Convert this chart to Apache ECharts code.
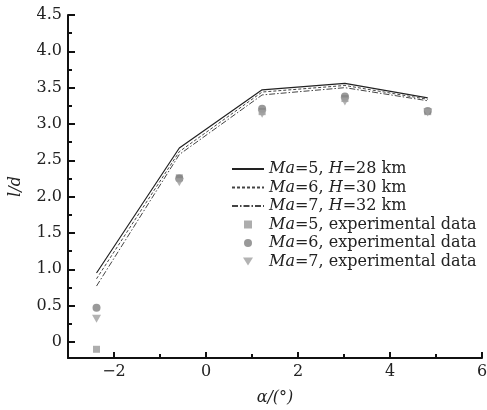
<!DOCTYPE html>
<html>
<head>
<meta charset="utf-8">
<script src="https://cdn.jsdelivr.net/npm/echarts@6/dist/echarts.min.js"></script>
<style>html,body{margin:0;padding:0;background:#fff}#c{width:487px;height:410px}</style>
</head>
<body>
<div id="c"></div>
<script>
const alpha = [-2.38, -0.58, 1.22, 3.02, 4.82];
const ma5Calc = [0.95, 2.67, 3.47, 3.56, 3.36];
const ma6Calc = [0.87, 2.62, 3.44, 3.53, 3.34];
const ma7Calc = [0.77, 2.58, 3.40, 3.50, 3.32];
const ma5Exp = [-0.10, 2.26, 3.17, 3.35, 3.17];
const ma6Exp = [0.47, 2.25, 3.21, 3.38, 3.18];
const ma7Exp = [0.32, 2.20, 3.14, 3.31, 3.16];
const xMajorTicks = [-2, 0, 2, 4, 6];
const xMinorTicks = [-1, 1, 3, 5];
const yMajorTicks = [0, 0.5, 1.0, 1.5, 2.0, 2.5, 3.0, 3.5, 4.0, 4.5];
const yMinorTicks = [-0.25, 0.25, 0.75, 1.25, 1.75, 2.25, 2.75, 3.25, 3.75, 4.25];
const names = ['Ma=5, H=28 km', 'Ma=6, H=30 km', 'Ma=7, H=32 km',
  'Ma=5, experimental data', 'Ma=6, experimental data', 'Ma=7, experimental data'];

const pair = (ys) => alpha.map((x, i) => [x, ys[i]]);
const font = '"DejaVu Serif", "Liberation Serif", serif';
const triPath = 'path://M0,0 L10,0 L5,8 Z';
const sqPath = 'path://M0,0 L10,0 L10,10 L0,10 Z';
const noSym = { color: 'rgba(0,0,0,0)', borderColor: 'rgba(0,0,0,0)', borderWidth: 0 };

const chart = echarts.init(document.getElementById('c'), null, { renderer: 'canvas' });
chart.setOption({
  animation: false,
  backgroundColor: '#fff',
  textStyle: { fontFamily: font },
  grid: { left: 68, right: 5, top: 15, bottom: 52, containLabel: false, outerBoundsMode: 'none' },
  legend: {
    orient: 'vertical', left: 226, top: 155,
    itemWidth: 32, itemHeight: 8, itemGap: 0.5,
    symbolKeepAspect: true,
    data: [
      { name: names[0], itemStyle: noSym },
      { name: names[1], itemStyle: noSym },
      { name: names[2], itemStyle: noSym },
      { name: names[3], icon: sqPath, itemStyle: { color: '#999' } },
      { name: names[4], icon: 'circle' },
      { name: names[5], icon: triPath }
    ],
    textStyle: {
      fontFamily: font, fontSize: 16, color: '#222', lineHeight: 18,
      rich: { i: { fontFamily: font, fontSize: 16, fontStyle: 'italic', color: '#222', lineHeight: 18 } }
    },
    formatter: (n) => n.replace(/Ma/, '{i|Ma}').replace(/H=/, '{i|H}=')
  },
  xAxis: [{
    type: 'value', min: -3, max: 6, position: 'bottom',
    name: 'α/(°)', nameLocation: 'middle', nameGap: 32,
    nameTextStyle: { fontFamily: font, fontSize: 16, fontStyle: 'italic', color: '#222' },
    axisLine: { onZero: false, lineStyle: { color: '#111', width: 2 } },
    axisTick: { show: true, inside: true, length: 6, customValues: xMajorTicks, lineStyle: { color: '#111', width: 2 } },
    axisLabel: { customValues: xMajorTicks, fontFamily: font, fontSize: 16, color: '#222', margin: 6,
      formatter: (v) => v < 0 ? '\u2212' + Math.abs(v) : String(v) },
    splitLine: { show: false }
  }, {
    type: 'value', min: -3, max: 6, position: 'bottom',
    axisLine: { show: false, onZero: false },
    axisTick: { show: true, inside: true, length: 4, customValues: xMinorTicks, lineStyle: { color: '#111', width: 2 } },
    axisLabel: { show: false }, splitLine: { show: false }
  }],
  yAxis: [{
    type: 'value', min: -0.22, max: 4.5, position: 'left',
    name: 'l/d', nameLocation: 'middle', nameGap: 44, nameRotate: 90,
    nameTextStyle: { fontFamily: font, fontSize: 16, fontStyle: 'italic', color: '#222' },
    axisLine: { onZero: false, lineStyle: { color: '#111', width: 2 } },
    axisTick: { show: true, inside: true, length: 7, customValues: yMajorTicks, lineStyle: { color: '#111', width: 2 } },
    axisLabel: { customValues: yMajorTicks, fontFamily: font, fontSize: 16, color: '#222', margin: 6,
      formatter: (v) => v === 0 ? '0' : v.toFixed(1) },
    splitLine: { show: false }
  }, {
    type: 'value', min: -0.22, max: 4.5, position: 'left',
    axisLine: { show: false, onZero: false },
    axisTick: { show: true, inside: true, length: 4, customValues: yMinorTicks, lineStyle: { color: '#111', width: 2 } },
    axisLabel: { show: false }, splitLine: { show: false }
  }],
  series: [
    { name: names[0], type: 'line', data: pair(ma5Calc), symbol: 'none', showSymbol: false, color: '#222',
      lineStyle: { color: '#222', width: 1.2, type: 'solid' } },
    { name: names[1], type: 'line', data: pair(ma6Calc), symbol: 'none', showSymbol: false, color: '#444',
      lineStyle: { color: '#444', width: 1, type: [3, 2] } },
    { name: names[2], type: 'line', data: pair(ma7Calc), symbol: 'none', showSymbol: false, color: '#444',
      lineStyle: { color: '#444', width: 1, type: [6, 2, 1.5, 2] } },
    { name: names[3], type: 'scatter', data: pair(ma5Exp), symbol: 'rect', symbolSize: 7,
      itemStyle: { color: '#999' } },
    { name: names[4], type: 'scatter', data: pair(ma6Exp), symbol: 'circle', symbolSize: 8,
      itemStyle: { color: '#7f7f7f' } },
    { name: names[5], type: 'scatter', data: pair(ma7Exp), symbol: triPath, symbolSize: [9, 8],
      itemStyle: { color: '#a0a0a0' } }
  ]
});
</script>
</body>
</html>
